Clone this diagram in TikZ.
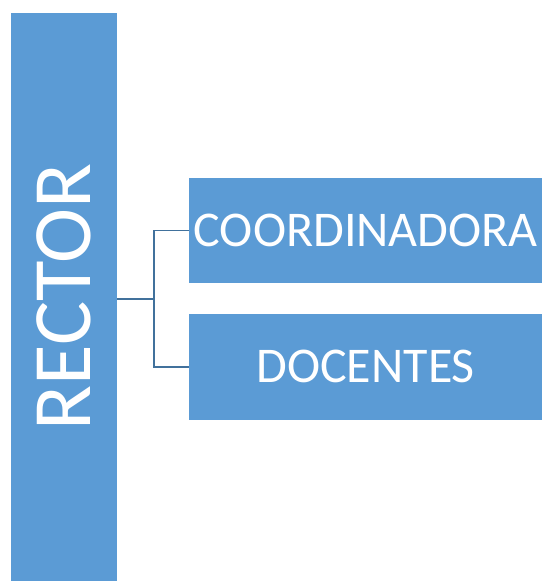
\documentclass[tikz,border=0pt]{standalone}
\usepackage{fontspec}
\setmainfont{Carlito}
\definecolor{boxblue}{HTML}{5B9BD5}
\definecolor{linkblue}{HTML}{41719C}
\begin{document}
\begin{tikzpicture}[x=1pt,y=1pt,
  box/.style={fill=boxblue, draw=none, text=white, inner sep=0pt, anchor=south west},
  link/.style={draw=linkblue, line width=1.5pt}]
\useasboundingbox (0,0) rectangle (547,581);
\node[box, minimum width=106pt, minimum height=568pt] (rector) at (11,0) {};
\node[text=white, rotate=90, font=\fontsize{83}{90}\selectfont] (rectorlabel) at (rector.center) {RECTOR};
\node[box, minimum width=353pt, minimum height=105pt, font=\fontsize{50}{56}\selectfont] (coord) at (189,298) {COORDINADORA};
\node[box, minimum width=353pt, minimum height=106pt, font=\fontsize{50}{56}\selectfont] (doc) at (189,161) {DOCENTES};
\coordinate (mid) at (154,282);
\draw[link] (rector.east |- mid) -- (mid);
\draw[link] (coord.west) -| (mid) |- (doc.west);
\end{tikzpicture}
\end{document}
